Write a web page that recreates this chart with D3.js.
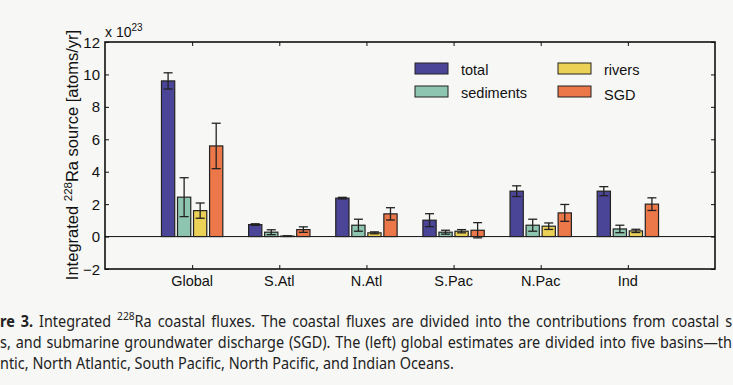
<!DOCTYPE html>
<html>
<head>
<meta charset="utf-8">
<script src="https://cdn.jsdelivr.net/npm/d3@7"></script>
<style>
  body { margin: 0; background: #f7f7f5; overflow: hidden; }
  svg { display: block; }
  .ax { font-family: "Liberation Sans", Arial, sans-serif; fill: #111; }
  .cap { font-family: "Noto Sans", "Open Sans", sans-serif; font-size: 15.5px; fill: #222; }
</style>
</head>
<body>
<svg id="chart" width="733" height="385"></svg>
<script>
// data (units of 1e23 atoms/yr)
const basins = ["Global", "S.Atl", "N.Atl", "S.Pac", "N.Pac", "Ind"];
const series = ["total", "sediments", "rivers", "SGD"];
const colors = ["#4b4597", "#8dc5b0", "#ecd157", "#ec7748"];

const total     = [9.6, 0.74, 2.37, 1.01, 2.8, 2.8];
const sediments = [2.43, 0.27, 0.70, 0.27, 0.70, 0.47];
const rivers    = [1.6, 0.03, 0.23, 0.33, 0.64, 0.35];
const sgd       = [5.59, 0.43, 1.40, 0.39, 1.46, 2.0];

const totalErr     = [0.5, 0.05, 0.05, 0.4, 0.33, 0.28];
const sedimentsErr = [1.2, 0.15, 0.37, 0.12, 0.37, 0.23];
const riversErr    = [0.47, 0.02, 0.06, 0.1, 0.2, 0.1];
const sgdErr       = [1.4, 0.17, 0.38, 0.47, 0.52, 0.39];

const yTicks = [-2, 0, 2, 4, 6, 8, 10, 12];

const values = [total, sediments, rivers, sgd];
const errs = [totalErr, sedimentsErr, riversErr, sgdErr];

const svg = d3.select("#chart");
const pLeft = 105, pRight = 715, pTop = 42, pBottom = 269;

const x = d3.scaleLinear().domain([0, 7]).range([pLeft, pRight]);
const y = d3.scaleLinear().domain([-2, 12]).range([pBottom, pTop]);
const barW = 0.152, step = 0.184;

// zero line
svg.append("line")
  .attr("x1", pLeft).attr("x2", pRight)
  .attr("y1", y(0)).attr("y2", y(0))
  .attr("stroke", "#111").attr("stroke-width", 1);

// bars + error bars
series.forEach((s, j) => {
  const off = (j - 1.5) * step;
  const g = svg.append("g");
  basins.forEach((b, i) => {
    const v = values[j][i], e = errs[j][i];
    const cx = x(i + 1 + off);
    const w = x(barW) - x(0);
    g.append("rect")
      .attr("x", cx - w / 2).attr("width", w)
      .attr("y", y(Math.max(v, 0))).attr("height", Math.abs(y(0) - y(v)))
      .attr("fill", colors[j]).attr("stroke", "#222").attr("stroke-width", 1.2);
    const cap = 4.5;
    g.append("line").attr("x1", cx).attr("x2", cx)
      .attr("y1", y(v - e)).attr("y2", y(v + e))
      .attr("stroke", "#222").attr("stroke-width", 1.3);
    [v - e, v + e].forEach(t => {
      g.append("line").attr("x1", cx - cap).attr("x2", cx + cap)
        .attr("y1", y(t)).attr("y2", y(t))
        .attr("stroke", "#222").attr("stroke-width", 1.3);
    });
  });
});

// axes with inward ticks
const tickLen = 4;
const axL = svg.append("g").attr("transform", `translate(${pLeft},0)`)
  .call(d3.axisRight(y).tickValues(yTicks).tickSize(tickLen).tickFormat(""));
const axR = svg.append("g").attr("transform", `translate(${pRight},0)`)
  .call(d3.axisLeft(y).tickValues(yTicks).tickSize(tickLen).tickFormat(""));
const axB = svg.append("g").attr("transform", `translate(0,${pBottom})`)
  .call(d3.axisTop(x).tickValues(d3.range(1, 7)).tickSize(tickLen).tickFormat(""));
const axT = svg.append("g").attr("transform", `translate(0,${pTop})`)
  .call(d3.axisBottom(x).tickValues(d3.range(1, 7)).tickSize(tickLen).tickFormat(""));
[axL, axR, axB, axT].forEach(a => {
  a.select(".domain").remove();
  a.selectAll("line").attr("stroke", "#111").attr("stroke-width", 1);
});

// frame
svg.append("rect")
  .attr("x", pLeft).attr("y", pTop)
  .attr("width", pRight - pLeft).attr("height", pBottom - pTop)
  .attr("fill", "none").attr("stroke", "#111").attr("stroke-width", 1.6);

// tick labels
svg.selectAll(".ylab").data(yTicks).enter().append("text")
  .attr("class", "ax").attr("x", pLeft - 5).attr("y", d => y(d) + 5.5)
  .attr("text-anchor", "end").attr("font-size", 15)
  .text(d => d < 0 ? "\u2212" + Math.abs(d) : d);

svg.selectAll(".xlab").data(basins).enter().append("text")
  .attr("class", "ax").attr("x", (d, i) => x(i + 1)).attr("y", 286)
  .attr("text-anchor", "middle").attr("font-size", 14.5)
  .text(d => d);

// multiplier
const mult = svg.append("text").attr("class", "ax").attr("x", 105).attr("y", 37).attr("font-size", 14);
mult.append("tspan").text("x 10");
mult.append("tspan").attr("font-size", 10).attr("dy", -6).text("23");

// y label
const yl = svg.append("text").attr("class", "ax").attr("font-size", 16.5)
  .attr("text-anchor", "middle")
  .attr("transform", "translate(78,155) rotate(-90)");
yl.append("tspan").text("Integrated ");
yl.append("tspan").attr("font-size", 11.5).attr("dy", -6).text("228");
yl.append("tspan").attr("dy", 6).text("Ra source [atoms/yr]");

// legend
const legPos = [[415, 63], [415, 86], [558, 63], [558, 86]];
series.forEach((s, j) => {
  const [lx, ly] = legPos[j];
  svg.append("rect").attr("x", lx).attr("y", ly).attr("width", 33).attr("height", 11)
    .attr("fill", colors[j]).attr("stroke", "#222").attr("stroke-width", 1);
  svg.append("text").attr("class", "ax").attr("x", lx + 46).attr("y", ly + 12 + (j === 3 ? 2 : 0))
    .attr("font-size", 14.5).text(s);
});

// caption (clipped at the page edges like the source scan)
const c1 = svg.append("text").attr("class", "cap").attr("x", 0).attr("y", 327)
  .attr("word-spacing", 2.4);
c1.append("tspan").attr("font-weight", "bold").text("re 3.");
c1.append("tspan").text(" Integrated ");
c1.append("tspan").attr("font-size", 11).attr("dy", -7).text("228");
c1.append("tspan").attr("dy", 7).text("Ra coastal fluxes. The coastal fluxes are divided into the contributions from coastal s");
const c2 = svg.append("text").attr("class", "cap").attr("x", 0).attr("y", 348)
  .attr("word-spacing", 1.2)
  .text("s, and submarine groundwater discharge (SGD). The (left) global estimates are divided into five basins\u2014th");
const c3 = svg.append("text").attr("class", "cap").attr("x", 0).attr("y", 369)
  .text("ntic, North Atlantic, South Pacific, North Pacific, and Indian Oceans.");

// squeeze to match the narrow caption face
const sx = 454 / c3.node().getComputedTextLength();
[[c1, 327], [c2, 348], [c3, 369]].forEach(([t, yy]) => {
  t.attr("x", 0).attr("y", 0).attr("transform", `translate(0,${yy}) scale(${sx},1)`);
});
</script>
</body>
</html>
